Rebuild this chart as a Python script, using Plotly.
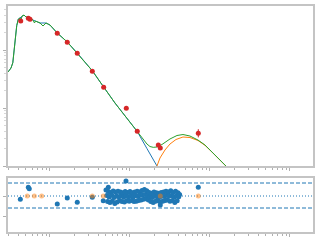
import numpy as np
import plotly.graph_objects as go

# ---------------- data (log10 units) ----------------
# total model (green)
tot_x = [8.475, 8.5125, 8.535, 8.545, 8.556, 8.569, 8.584, 8.604, 8.625, 8.6375, 8.65, 8.675, 8.70, 8.75,
         8.7875, 8.806, 8.819, 8.875, 8.9125, 8.925, 8.95, 9.0, 9.091, 9.216, 9.341, 9.529, 9.671,
         9.8125, 9.959, 10.0875, 10.15, 10.2125, 10.25, 10.291, 10.3375, 10.40, 10.50, 10.5875,
         10.6625, 10.75, 10.85, 10.9375, 11.025, 11.1125, 11.20, 11.25]
tot_y = [-11.379, -11.310, -11.22, -11.10, -10.95, -10.75, -10.58, -10.466, -10.448, -10.483, -10.414,
         -10.397, -10.431, -10.448, -10.483, -10.534, -10.50, -10.534, -10.586, -10.569, -10.534,
         -10.569, -10.707, -10.862, -11.052, -11.357, -11.638, -11.914, -12.172, -12.397, -12.517,
         -12.621, -12.664, -12.678, -12.672, -12.629, -12.534, -12.474, -12.457, -12.483, -12.552,
         -12.638, -12.759, -12.879, -13.0, -13.07]
# synchrotron (blue)
syn_x = [8.475, 8.5125, 8.535, 8.545, 8.556, 8.569, 8.584, 8.604, 8.625, 8.65, 8.675, 8.70, 8.75, 8.7875,
         8.875, 8.95, 9.0, 9.091, 9.216, 9.341, 9.529, 9.671, 9.8125, 9.959, 10.0875, 10.2125,
         10.3375, 10.3625]
syn_y = [-11.379, -11.310, -11.22, -11.10, -10.95, -10.75, -10.58, -10.466, -10.448, -10.414, -10.397,
         -10.431, -10.448, -10.483, -10.534, -10.534, -10.569, -10.707, -10.862, -11.052, -11.357,
         -11.638, -11.914, -12.172, -12.397, -12.70, -13.0, -13.06]
# inverse Compton (orange)
ic_x = [10.325, 10.3375, 10.375, 10.4375, 10.50, 10.575, 10.6625, 10.75, 10.85, 10.9375, 11.025,
        11.1125, 11.20, 11.25]
ic_y = [-13.1, -13.0, -12.862, -12.724, -12.621, -12.543, -12.50, -12.509, -12.56, -12.643,
        -12.759, -12.879, -13.0, -13.07]

# observed points (red)
obs_x = [8.634, 8.729, 8.75, 9.091, 9.216, 9.341, 9.529, 9.671, 9.954, 10.091, 10.354, 10.379, 10.854]
obs_y = [-10.50, -10.453, -10.471, -10.712, -10.867, -11.057, -11.367, -11.643, -12.005, -12.402,
         -12.638, -12.69, -12.436]
obs_err = [0.01, 0.01, 0.01, 0.01, 0.01, 0.01, 0.01, 0.01, 0.015, 0.015, 0.015, 0.015, 0.07]

# residuals
res_x = [8.629, 8.729, 8.741, 9.091, 9.216, 9.341, 9.529, 9.666, 9.729, 9.95, 10.379, 10.854]
res_y = [-0.165, 0.435, 0.365, -0.40, -0.10, -0.315, -0.065, -0.235, 0.435, 0.75, -0.45, 0.435]
clu_x = [9.70, 9.71, 9.72, 9.73, 9.74, 9.75, 9.76, 9.77, 9.78, 9.79, 9.80, 9.81, 9.82, 9.83, 9.84,
         9.85, 9.86, 9.87, 9.88, 9.89, 9.90, 9.91, 9.92, 9.93, 9.94, 9.95, 9.96, 9.97, 9.98, 9.99,
         10.00, 10.01, 10.02, 10.03, 10.04, 10.05, 10.06, 10.07, 10.08, 10.09, 10.10, 10.11, 10.12,
         10.13, 10.14, 10.15, 10.16, 10.17, 10.18, 10.19, 10.20, 10.21, 10.22, 10.23, 10.24, 10.25,
         10.26, 10.27, 10.28, 10.29, 10.30, 10.31, 10.32, 10.33, 10.34, 10.35, 10.36, 10.37, 10.38,
         10.39, 10.40, 10.41, 10.42, 10.43, 10.44, 10.45, 10.46, 10.47, 10.48, 10.49, 10.50, 10.51,
         10.52, 10.53, 10.54, 10.55, 10.56, 10.57, 10.58, 10.59, 10.60, 10.61, 10.62]
clu_y = [0.30, 0.02, -0.28, 0.22, -0.05, -0.32, 0.18, 0.05, -0.25, 0.25, -0.08, -0.38, 0.20, 0.00, -0.30,
         0.24, -0.04, -0.22, 0.20, 0.03, -0.28, 0.16, -0.06, -0.30, 0.22, 0.02, -0.24, 0.18, -0.04, -0.26,
         0.22, 0.00, -0.22, 0.16, -0.06, -0.28, 0.20, 0.02, -0.26, 0.24, -0.02, -0.22, 0.20, 0.04, -0.20,
         0.28, 0.06, -0.16, 0.32, 0.08, -0.14, 0.26, 0.02, -0.20, 0.18, -0.04, -0.28, 0.14, -0.08, -0.32,
         0.20, 0.00, -0.26, 0.16, -0.04, -0.24, 0.14, -0.06, -0.30, 0.18, 0.00, -0.26, 0.20, -0.02, -0.22,
         0.24, 0.04, -0.20, 0.20, 0.00, -0.26, 0.26, 0.02, -0.22, 0.18, -0.06, -0.32, 0.24, 0.00, -0.24,
         0.16, -0.04, 0.08]
ul_x = [8.716, 8.804, 8.896, 9.529, 9.666, 10.379, 10.854]
ul_y = [0, 0, 0, 0, 0, 0, 0]
res_band = [0.65, -0.60]

x_range = [8.475, 12.2875]
y_range = [-13.0, -10.241]
r_range = [-1.8, 0.9]

# ---------------- figure ----------------
C0, C1, C2, C3 = '#1f77b4', '#ff7f0e', '#2ca02c', '#d62728'
p = lambda a: [10 ** v for v in a]

fig = go.Figure()
fig.add_trace(go.Scatter(x=p(syn_x), y=p(syn_y), mode='lines', line=dict(color=C0, width=1),
                         xaxis='x', yaxis='y'))
fig.add_trace(go.Scatter(x=p(ic_x), y=p(ic_y), mode='lines', line=dict(color=C1, width=1),
                         xaxis='x', yaxis='y'))
fig.add_trace(go.Scatter(x=p(tot_x), y=p(tot_y), mode='lines', line=dict(color=C2, width=1),
                         xaxis='x', yaxis='y'))
oy = np.array(p(obs_y))
oe = np.array(obs_err)
fig.add_trace(go.Scatter(x=p(obs_x), y=oy, mode='markers',
                         marker=dict(color=C3, size=5),
                         error_y=dict(type='data', symmetric=False,
                                      array=oy * (10 ** oe - 1), arrayminus=oy * (1 - 10 ** (-oe)),
                                      color=C3, thickness=1, width=0),
                         xaxis='x', yaxis='y'))

fig.add_trace(go.Scatter(x=p(clu_x), y=clu_y, mode='markers', marker=dict(color=C0, size=5),
                         xaxis='x2', yaxis='y2'))
fig.add_trace(go.Scatter(x=p(res_x), y=res_y, mode='markers', marker=dict(color=C0, size=5),
                         xaxis='x2', yaxis='y2'))
fig.add_trace(go.Scatter(x=p(ul_x), y=ul_y, mode='markers', marker=dict(color=C1, size=5, opacity=0.5),
                         xaxis='x2', yaxis='y2'))

shapes = []
for v in res_band:
    shapes.append(dict(type='line', xref='x2 domain', yref='y2', x0=0, x1=1, y0=v, y1=v,
                       line=dict(color=C0, width=1, dash='4px,2px'), layer='below'))
shapes.append(dict(type='line', xref='x2 domain', yref='y2', x0=0, x1=1, y0=0, y1=0,
                   line=dict(color=C0, width=1, dash='1px,2px'), layer='below'))

spine = '#c4c4c4'
tickc = '#b0b0b0'
common_x = dict(type='log', range=x_range, dtick=1, showgrid=False, zeroline=False,
                showline=True, linecolor=spine, linewidth=1.5, mirror=True,
                ticks='outside', ticklen=3, tickcolor=tickc, showticklabels=False,
                minor=dict(ticks='outside', ticklen=2, tickcolor=tickc, dtick='D1', showgrid=False))
fig.update_layout(
    width=320, height=240, margin=dict(l=0, r=0, t=0, b=0),
    paper_bgcolor='white', plot_bgcolor='white', showlegend=False,
    xaxis=dict(domain=[0.025, 0.978], anchor='y', **common_x),
    yaxis=dict(domain=[0.3083, 0.975], anchor='x', type='log', range=y_range, dtick=1,
               showgrid=False, zeroline=False, showline=True, linecolor=spine, linewidth=1.5,
               mirror=True, ticks='outside', ticklen=3, tickcolor=tickc, showticklabels=False,
               minor=dict(ticks='outside', ticklen=2, tickcolor='#d8d8d8', dtick='D1', showgrid=False)),
    xaxis2=dict(domain=[0.025, 0.978], anchor='y2', **common_x),
    yaxis2=dict(domain=[0.0333, 0.2583], anchor='x2', range=r_range, dtick=1,
                showgrid=False, zeroline=False, showline=True, linecolor=spine, linewidth=1.5,
                mirror=True, ticks='outside', ticklen=3, tickcolor=tickc, showticklabels=False),
    shapes=shapes,
)
fig.write_html('out.html')
